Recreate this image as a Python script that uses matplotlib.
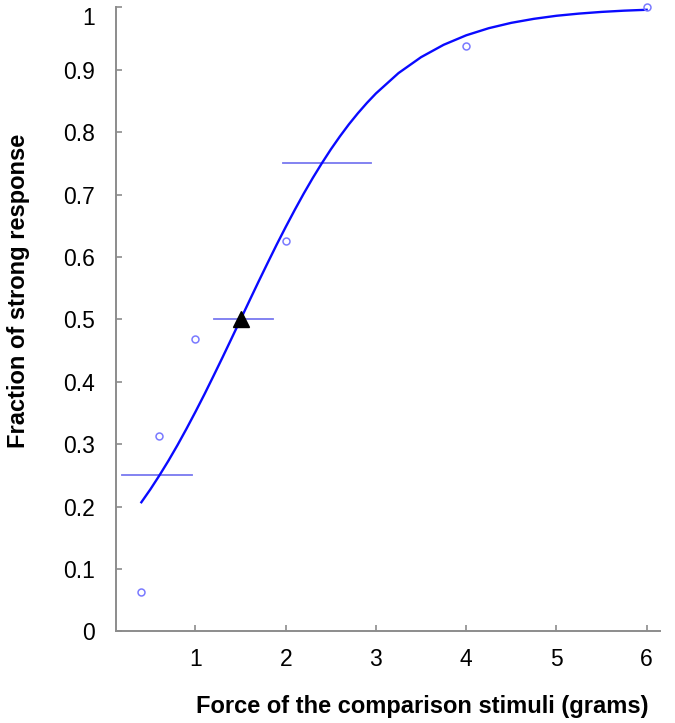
import matplotlib
matplotlib.use('Agg')
import matplotlib.pyplot as plt

# observed fractions
force = [0.4, 0.6, 1.0, 2.0, 4.0, 6.0]
fraction = [0.0625, 0.3125, 0.469, 0.625, 0.9375, 1.0]

# fitted curve
curve_x = [0.4, 0.5, 0.6, 0.7, 0.8, 0.9, 1.0, 1.1, 1.2, 1.3, 1.4, 1.5, 1.6, 1.7,
           1.8, 1.9, 2.0, 2.1, 2.2, 2.3, 2.4, 2.5, 2.6, 2.7, 2.8, 2.9, 3.0,
           3.25, 3.5, 3.75, 4.0, 4.25, 4.5, 4.75, 5.0, 5.25, 5.5, 5.75, 6.0]
curve_y = [0.207, 0.2277, 0.25, 0.2735, 0.2984, 0.3247, 0.352, 0.3802, 0.4095,
           0.4392, 0.4695, 0.5, 0.5305, 0.5608, 0.5905, 0.6198, 0.648, 0.6753,
           0.7016, 0.7265, 0.75, 0.7723, 0.793, 0.8124, 0.8302, 0.8467, 0.8619,
           0.8945, 0.920, 0.9398, 0.955, 0.9664, 0.975, 0.9814, 0.9863, 0.9898,
           0.9925, 0.9945, 0.9959]

# intervals at 25/50/75 %
ci_level = [0.25, 0.5, 0.75]
ci_low = [0.19, 1.21, 1.97]
ci_high = [0.96, 1.855, 2.94]

pse_x = 1.5
pse_y = 0.5

plt.rcParams['font.family'] = ['Liberation Sans', 'DejaVu Sans']

fig = plt.figure(figsize=(6.75, 7.23), dpi=100)
ax = fig.add_axes([0.172, 0.1266, 0.806, 0.8634])

ax.plot(curve_x, curve_y, color='#0a0aff', lw=1.7, zorder=3)
for lv, lo, hi in zip(ci_level, ci_low, ci_high):
    ax.plot([lo, hi], [lv, lv], color='#7878f0', lw=1.3, zorder=2)
ax.plot(force, fraction, 'o', mfc='none', mec='#7a7aff', ms=5, mew=1.1, zorder=4,
        clip_on=False)
ax.plot([pse_x], [pse_y], '^', color='black', ms=12, zorder=5)

ax.set_xlim(0.12, 6.15)
ax.set_ylim(0, 1)
ax.set_xticks([1, 2, 3, 4, 5, 6])
ax.set_yticks([0, 0.1, 0.2, 0.3, 0.4, 0.5, 0.6, 0.7, 0.8, 0.9, 1.0])
ax.set_yticklabels(['0', '0.1', '0.2', '0.3', '0.4', '0.5', '0.6', '0.7', '0.8', '0.9', '1'])

for s in ['top', 'right']:
    ax.spines[s].set_visible(False)
for s in ['left', 'bottom']:
    ax.spines[s].set_color('#8c8c8c')
    ax.spines[s].set_linewidth(1.4)
ax.tick_params(axis='both', direction='in', length=4.5, width=1.2, color='#8c8c8c',
               labelsize=16.5)
ax.tick_params(axis='y', pad=15)
ax.tick_params(axis='x', pad=12)
# top label would be cut by the figure edge, hang it below the tick
ax.get_yticklabels()[-1].set_va('top')

ax.set_xlabel('Force of the comparison stimuli (grams)', fontsize=17, fontweight='bold')
ax.set_ylabel('Fraction of strong response', fontsize=17, fontweight='bold')
ax.xaxis.set_label_coords(0.5625, -0.102)
ax.yaxis.set_label_coords(-0.159, 0.545)

fig.savefig('out.png', dpi=100)
